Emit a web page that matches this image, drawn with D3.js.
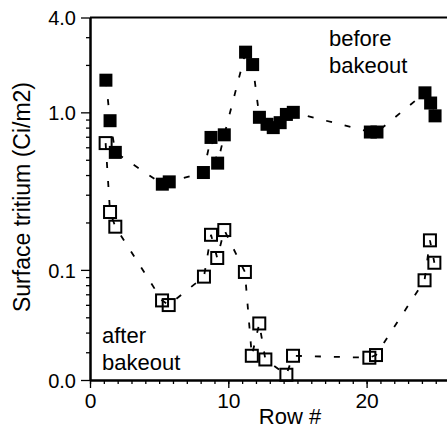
<!DOCTYPE html>
<html lang="en">
<head>
  <meta charset="utf-8">
  <title>Surface tritium</title>
  <style>
    body { margin: 0; background: #fff; }
    text { font-family: "Liberation Sans", Arial, Helvetica, sans-serif; fill: #000; }
  </style>
</head>
<body>
  <div id="chart"></div>
  <script src="https://d3js.org/d3.v7.min.js"></script>
  <script>
    // before bakeout (filled squares)
    var rowBefore = [1.15, 1.45, 1.83, 5.23, 5.73, 8.2, 8.75, 9.23, 9.71, 11.25, 11.76, 12.25, 12.8, 13.25, 13.75, 14.2, 14.7, 20.27, 20.75, 24.22, 24.63, 24.95];
    var valBefore = [1.6, 0.885, 0.557, 0.35, 0.362, 0.415, 0.693, 0.476, 0.72, 2.41, 2.01, 0.93, 0.84, 0.8, 0.86, 0.97, 1.0, 0.75, 0.75, 1.33, 1.146, 0.95];
    // after bakeout (open squares)
    var rowAfter = [1.13, 1.45, 1.83, 5.21, 5.69, 8.24, 8.75, 9.2, 9.71, 11.2, 11.7, 12.24, 12.68, 14.2, 14.68, 20.2, 20.68, 24.19, 24.58, 24.9];
    var valAfter = [0.638, 0.233, 0.188, 0.064, 0.0598, 0.0906, 0.167, 0.119, 0.179, 0.097, 0.0285, 0.0457, 0.027, 0.0216, 0.0285, 0.0277, 0.0288, 0.0859, 0.154, 0.111];

    var xTicks = [0, 10, 20];
    var yTicks = [0.02, 0.1, 1, 4];
    var yTickLabels = ["0.0", "0.1", "1.0", "4.0"];

    var w = 447, h = 429;
    var padL = 90, padT = 17.5, padB = 380;

    var svg = d3.select("#chart").append("svg")
      .attr("width", w).attr("height", h);

    var x = d3.scaleLinear().domain([0, 26]).range([padL, padL + 26 * 13.83]);
    var y = d3.scaleLog().domain([0.02, 4]).range([padB, padT]);

    // minor ticks
    var xMinor = d3.range(0, 26);
    var yMinor = [0.03, 0.04, 0.05, 0.06, 0.07, 0.08, 0.09, 0.2, 0.3, 0.4, 0.5, 0.6, 0.7, 0.8, 0.9, 2, 3];

    svg.append("g").attr("class", "minor")
      .attr("transform", "translate(0," + padB + ")")
      .call(d3.axisBottom(x).tickValues(xMinor).tickSize(4).tickSizeOuter(0).tickFormat(""));
    svg.append("g").attr("class", "minor")
      .attr("transform", "translate(" + padL + ",0)")
      .call(d3.axisLeft(y).tickValues(yMinor).tickSize(4).tickSizeOuter(0).tickFormat(""));

    var xAxis = svg.append("g")
      .attr("transform", "translate(0," + padB + ")")
      .call(d3.axisBottom(x).tickValues(xTicks).tickSize(8).tickSizeOuter(0).tickPadding(5));
    xAxis.selectAll("text").style("font-size", "21px");

    var yAxis = svg.append("g")
      .attr("transform", "translate(" + padL + ",0)")
      .call(d3.axisLeft(y).tickValues(yTicks).tickSize(9).tickSizeOuter(0).tickPadding(5)
        .tickFormat(function(d, i) { return yTickLabels[i]; }));
    yAxis.selectAll("text").style("font-size", "20px").attr("dy", "0.36em");

    svg.selectAll(".domain").attr("stroke", "#000").attr("stroke-width", 2);
    svg.selectAll(".tick line").attr("stroke", "#000").attr("stroke-width", 1.3);

    // top frame line
    svg.append("line")
      .attr("x1", padL).attr("x2", w).attr("y1", padT).attr("y2", padT)
      .attr("stroke", "#000").attr("stroke-width", 2);

    var line = d3.line().x(function(d) { return x(d[0]); }).y(function(d) { return y(d[1]); });
    var before = d3.zip(rowBefore, valBefore);
    var after = d3.zip(rowAfter, valAfter);

    [before, after].forEach(function(s) {
      svg.append("path").datum(s)
        .attr("d", line)
        .attr("fill", "none")
        .attr("stroke", "#000")
        .attr("stroke-width", 1.8)
        .attr("stroke-dasharray", "6,13");
    });

    var fs = 13;
    svg.selectAll("rect.before").data(before).enter()
      .append("rect").attr("class", "before")
      .attr("x", function(d) { return x(d[0]) - fs / 2; })
      .attr("y", function(d) { return y(d[1]) - fs / 2; })
      .attr("width", fs).attr("height", fs)
      .attr("fill", "#000");

    var os = 12;
    svg.selectAll("rect.after").data(after).enter()
      .append("rect").attr("class", "after")
      .attr("x", function(d) { return x(d[0]) - os / 2; })
      .attr("y", function(d) { return y(d[1]) - os / 2; })
      .attr("width", os).attr("height", os)
      .attr("fill", "none").attr("stroke", "#000").attr("stroke-width", 2);

    // axis titles
    svg.append("text")
      .attr("x", 290).attr("y", 424)
      .attr("text-anchor", "middle")
      .style("font-size", "22px")
      .text("Row #");

    svg.append("text")
      .attr("transform", "translate(30,197) rotate(-90)")
      .attr("text-anchor", "middle")
      .style("font-size", "23px")
      .text("Surface tritium (Ci/m2)");

    // annotations
    svg.append("text").attr("x", 329).attr("y", 46).style("font-size", "22px").text("before");
    svg.append("text").attr("x", 329).attr("y", 73).style("font-size", "22px").text("bakeout");
    svg.append("text").attr("x", 102).attr("y", 343).style("font-size", "22px").text("after");
    svg.append("text").attr("x", 102).attr("y", 370).style("font-size", "22px").text("bakeout");
  </script>
</body>
</html>
